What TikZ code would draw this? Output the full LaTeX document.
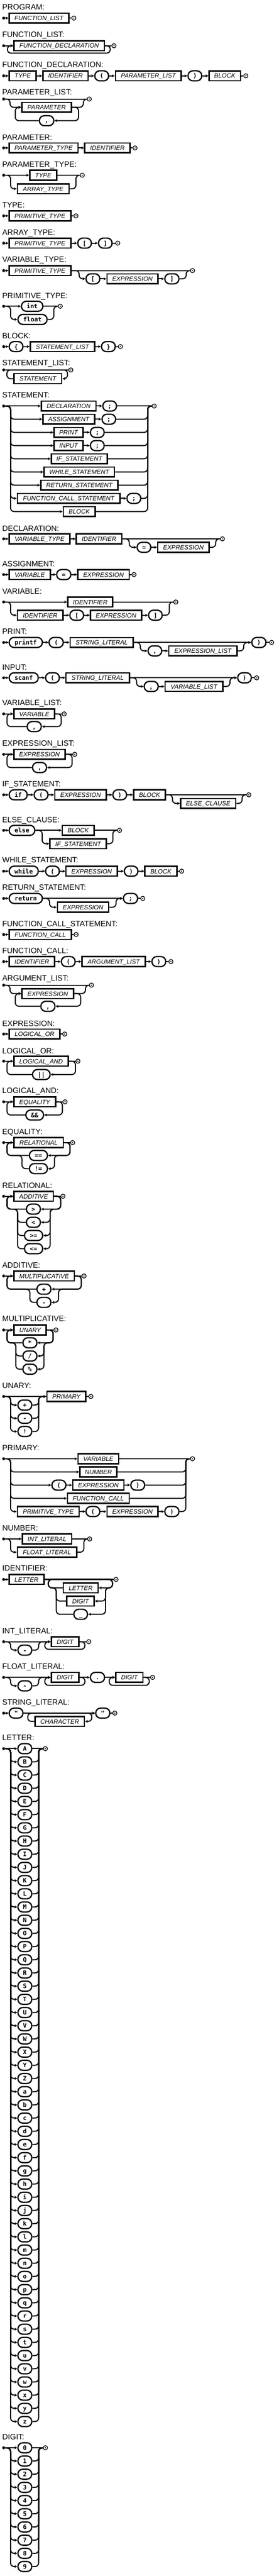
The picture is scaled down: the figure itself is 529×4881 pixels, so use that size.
\documentclass[tikz,border=0pt]{standalone}
\usepackage{fontspec}
\setmainfont{Liberation Sans}
\setmonofont{DejaVu Sans Mono}
\usetikzlibrary{arrows.meta}
\tikzset{
    rulename/.style={anchor=base west,inner sep=0pt,font=\fontsize{7.35}{8}\selectfont},
    ntbox/.style={draw,line width=1.35pt,minimum height=9.4pt,inner sep=0pt,text height=4.3pt,text depth=0pt,font=\fontsize{5.9}{6}\selectfont\itshape},
    tmbox/.style={draw,line width=1.2pt,rounded corners=4.6pt,minimum height=9.5pt,inner sep=0pt,text height=4.3pt,text depth=0pt,font=\fontsize{5.8}{6}\selectfont\ttfamily\bfseries},
    railstart/.style={circle,fill,inner sep=0pt,minimum size=2.8pt},
    railend/.style={circle,draw,line width=0.65pt,inner sep=0pt,minimum size=4pt,
        path picture={\fill (path picture bounding box.center) circle (0.6pt);}},
    wire/.style={line width=1pt},
    feed/.style={wire,-{Stealth[length=2.7pt,width=2.7pt]}},
    curvy/.style={rounded corners=3.4pt}
}
\newcommand\RuleName[3]{\node[rulename] (#1) at (4,#2) {#3};}
\newcommand\RailStart[3]{\node[railstart] (#1) at (#2,#3) {};}
\newcommand\RailEnd[3]{\node[railend] (#1) at (#2,#3) {};}
\newcommand\NonTerm[5]{\node[ntbox,minimum width={(#3-#2-1.6)*0.5pt}] (#1) at ({(#2+#3)/2},#4) {#5};}
\newcommand\Term[5]{\node[tmbox,minimum width={(#3-#2-1.5)*0.5pt}] (#1) at ({(#2+#3)/2},#4) {#5};}

\begin{document}
\begin{tikzpicture}[x=0.5pt,y=-0.5pt]
    \useasboundingbox (0,0) rectangle (529,4881);
    % PROGRAM
    \RuleName{progN}{19}{PROGRAM:}
    \RailStart{progS}{7}{34.3}
    \NonTerm{prog1}{16.7}{131}{34.3}{FUNCTION\_LIST}
    \RailEnd{progE}{140}{34.3}
    \draw[feed] (progS) -- (prog1);
    \draw[wire] (prog1) -- (progE);
    % FUNCTION_LIST
    \RuleName{flstN}{71}{FUNCTION\_LIST:}
    \RailStart{flstS}{7}{86.7}
    \NonTerm{flst1}{25.7}{198.7}{86.7}{FUNCTION\_DECLARATION}
    \RailEnd{flstE}{216}{86.7}
    \draw[feed] (flstS) -- (flst1);
    \draw[wire] (flst1) -- (flstE);
    \draw[feed,curvy] (flst1) -| (209,100.7) -| (14,86.7) -- (flst1);
    % FUNCTION_DECLARATION
    \RuleName{fdecN}{128}{FUNCTION\_DECLARATION:}
    \RailStart{fdecS}{7}{143.7}
    \NonTerm{fdec1}{16.7}{69.3}{143.7}{TYPE}
    \NonTerm{fdec2}{80.7}{167.7}{143.7}{IDENTIFIER}
    \Term{fdec3}{179}{206.7}{143.7}{(}
    \NonTerm{fdec4}{218.3}{344.3}{143.7}{PARAMETER\_LIST}
    \Term{fdec5}{355.7}{383.3}{143.7}{)}
    \NonTerm{fdec6}{395.7}{456.7}{143.7}{BLOCK}
    \RailEnd{fdecE}{466}{143.7}
    \foreach \a/\b in {S/1,1/2,2/3,3/4,4/5,5/6} \draw[feed] (fdec\a) -- (fdec\b);
    \draw[wire] (fdec6) -- (fdecE);
    % PARAMETER_LIST
    \RuleName{plstN}{180}{PARAMETER\_LIST:}
    \RailStart{plstS}{7}{187.7}
    \NonTerm{plst1}{41}{136}{203.3}{PARAMETER}
    \Term{plst2}{74}{102.7}{228.7}{,}
    \RailEnd{plstE}{169.3}{187.7}
    \draw[wire] (plstS) -- (plstE);
    \draw[feed,curvy] (plstS) -| (19,203.3) -- (plst1);
    \draw[feed,curvy] (plst1) -| (149,228.7) -- (plst2);
    \draw[feed,curvy] (plst2) -| (29,203.3) -- (plst1);
    \draw[wire,curvy] (plst1) -| (158,187.7) -- (plstE);
    % PARAMETER
    \RuleName{parN}{265}{PARAMETER:}
    \RailStart{parS}{7}{280.3}
    \NonTerm{par1}{16.7}{148.7}{280.3}{PARAMETER\_TYPE}
    \NonTerm{par2}{160}{247.3}{280.3}{IDENTIFIER}
    \RailEnd{parE}{256}{280.3}
    \foreach \a/\b in {S/1,1/2} \draw[feed] (par\a) -- (par\b);
    \draw[wire] (par2) -- (parE);
    % PARAMETER_TYPE
    \RuleName{ptypN}{316.7}{PARAMETER\_TYPE:}
    \RailStart{ptypS}{7}{332}
    \NonTerm{ptyp1}{55.7}{108.3}{332}{TYPE}
    \NonTerm{ptyp2}{32.3}{131.7}{357.7}{ARRAY\_TYPE}
    \RailEnd{ptypE}{156}{332}
    \draw[feed] (ptypS) -- (ptyp1);
    \draw[feed,curvy] (ptypS) -| (20,357.7) -- (ptyp2);
    \draw[wire] (ptyp1) -- (ptypE);
    \draw[wire,curvy] (ptyp2) -| (144,332) -- (ptypE);
    % TYPE
    \RuleName{typN}{393}{TYPE:}
    \RailStart{typS}{7}{409}
    \NonTerm{typ1}{16.7}{135}{409}{PRIMITIVE\_TYPE}
    \RailEnd{typE}{144}{409}
    \draw[feed] (typS) -- (typ1);
    \draw[wire] (typ1) -- (typE);
    % ARRAY_TYPE
    \RuleName{atypN}{445}{ARRAY\_TYPE:}
    \RailStart{atypS}{7}{460.7}
    \NonTerm{atyp1}{16.7}{135}{460.7}{PRIMITIVE\_TYPE}
    \Term{atyp2}{146.7}{174}{460.7}{[}
    \Term{atyp3}{186}{213.3}{460.7}{]}
    \RailEnd{atypE}{223.3}{460.7}
    \foreach \a/\b in {S/1,1/2,2/3} \draw[feed] (atyp\a) -- (atyp\b);
    \draw[wire] (atyp3) -- (atypE);
    % VARIABLE_TYPE
    \RuleName{vtypN}{496.7}{VARIABLE\_TYPE:}
    \RailStart{vtypS}{7}{512.7}
    \NonTerm{vtyp1}{16.7}{135}{512.7}{PRIMITIVE\_TYPE}
    \Term{vtyp2}{162.3}{190}{528.3}{[}
    \NonTerm{vtyp3}{202.3}{300}{528.3}{EXPRESSION}
    \Term{vtyp4}{311.7}{340}{528.3}{]}
    \RailEnd{vtypE}{365}{512.7}
    \draw[feed] (vtypS) -- (vtyp1);
    \draw[wire] (vtyp1) -- (vtypE);
    \draw[feed,curvy] (vtyp1) -| (150,528.3) -- (vtyp2);
    \foreach \a/\b in {2/3,3/4} \draw[feed] (vtyp\a) -- (vtyp\b);
    \draw[wire,curvy] (vtyp4) -| (353,512.7) -- (vtypE);
    % PRIMITIVE_TYPE
    \RuleName{primN}{565}{PRIMITIVE\_TYPE:}
    \RailStart{primS}{7}{580.3}
    \Term{prim1}{40}{82}{580.3}{int}
    \Term{prim2}{33.3}{90}{605.3}{float}
    \RailEnd{primE}{114.3}{580.3}
    \draw[feed] (primS) -- (prim1);
    \draw[feed,curvy] (primS) -| (20,605.3) -- (prim2);
    \draw[wire] (prim1) -- (primE);
    \draw[wire,curvy] (prim2) -| (102,580.3) -- (primE);
    % BLOCK
    \RuleName{blkN}{641.7}{BLOCK:}
    \RailStart{blkS}{7}{656.7}
    \Term{blk1}{16.7}{44.3}{656.7}{\{}
    \NonTerm{blk2}{56.7}{180}{656.7}{STATEMENT\_LIST}
    \Term{blk3}{191.7}{219.3}{656.7}{\}}
    \RailEnd{blkE}{228.3}{656.7}
    \foreach \a/\b in {S/1,1/2,2/3} \draw[feed] (blk\a) -- (blk\b);
    \draw[wire] (blk3) -- (blkE);
    % STATEMENT_LIST
    \RuleName{slstN}{692.7}{STATEMENT\_LIST:}
    \RailStart{slstS}{7}{701}
    \NonTerm{slst1}{25.7}{117.7}{717.5}{STATEMENT}
    \RailEnd{slstE}{134.3}{701}
    \draw[wire] (slstS) -- (slstE);
    \draw[feed,curvy] (slstS) -| (128,717.5) -- (slst1);
    \draw[wire,curvy] (slst1) -| (13,701) -- (slstE);
    % STATEMENT
    \RuleName{stmN}{753.3}{STATEMENT:}
    \RailStart{stmS}{7}{769.3}
    \NonTerm{stm1}{77.7}{182.7}{769.3}{DECLARATION}
    \Term{stmq1}{194.3}{221.7}{769.3}{;}
    \NonTerm{stm2}{80.7}{180}{794.3}{ASSIGNMENT}
    \Term{stmq2}{192.7}{220}{794.3}{;}
    \NonTerm{stm3}{101.7}{158.3}{819.3}{PRINT}
    \Term{stmq3}{170.7}{198.3}{819.3}{;}
    \NonTerm{stm4}{101.7}{158.3}{844.3}{INPUT}
    \Term{stmq4}{170.7}{198.3}{844.3}{;}
    \NonTerm{stm5}{96.7}{204}{869.3}{IF\_STATEMENT}
    \NonTerm{stm6}{82.7}{217.7}{894.3}{WHILE\_STATEMENT}
    \NonTerm{stm7}{76.7}{224}{919.3}{RETURN\_STATEMENT}
    \NonTerm{stm8}{32.3}{228.3}{944.3}{FUNCTION\_CALL\_STATEMENT}
    \Term{stmq8}{240}{267.7}{944.3}{;}
    \NonTerm{stm9}{119.3}{181}{969.3}{BLOCK}
    \RailEnd{stmE}{292.3}{769.3}
    \draw[feed] (stmS) -- (stm1);
    \foreach \row in {2,...,9} \draw[feed,curvy] (stmS) -| (20,{769.3+25*(\row-1)}) -- (stm\row);
    \foreach \row in {1,2,3,4,8} \draw[feed] (stm\row) -- (stmq\row);
    \draw[wire] (stmq1) -- (stmE);
    \foreach \n in {stmq2,stmq3,stmq4,stm5,stm6,stm7,stmq8,stm9} \draw[wire,curvy] (\n) -| (280,769.3) -- (stmE);
    % DECLARATION
    \RuleName{dclN}{1006}{DECLARATION:}
    \RailStart{dclS}{7}{1021}
    \NonTerm{dcl1}{16.7}{133.3}{1021}{VARIABLE\_TYPE}
    \NonTerm{dcl2}{144}{231.7}{1021}{IDENTIFIER}
    \Term{dcl3}{259.3}{286.7}{1037}{=}
    \NonTerm{dcl4}{298.3}{397.3}{1037}{EXPRESSION}
    \RailEnd{dclE}{421.7}{1021}
    \foreach \a/\b in {S/1,1/2,3/4} \draw[feed] (dcl\a) -- (dcl\b);
    \draw[wire] (dcl2) -- (dclE);
    \draw[feed,curvy] (dcl2) -| (245,1037) -- (dcl3);
    \draw[wire,curvy] (dcl4) -| (409,1021) -- (dclE);
    % ASSIGNMENT
    \RuleName{asgN}{1073.3}{ASSIGNMENT:}
    \RailStart{asgS}{7}{1088.7}
    \NonTerm{asg1}{16.7}{96}{1088.7}{VARIABLE}
    \Term{asg2}{106.7}{135}{1088.7}{=}
    \NonTerm{asg3}{146.7}{245.7}{1088.7}{EXPRESSION}
    \RailEnd{asgE}{254}{1088.7}
    \foreach \a/\b in {S/1,1/2,2/3} \draw[feed] (asg\a) -- (asg\b);
    \draw[wire] (asg3) -- (asgE);
    % VARIABLE
    \RuleName{varN}{1125}{VARIABLE:}
    \RailStart{varS}{7}{1140.7}
    \NonTerm{var1}{127.7}{214.3}{1140.7}{IDENTIFIER}
    \NonTerm{var2}{32.3}{120}{1165.7}{IDENTIFIER}
    \Term{var3}{131.7}{159.3}{1165.7}{[}
    \NonTerm{var4}{170.7}{269.3}{1165.7}{EXPRESSION}
    \Term{var5}{281}{308.3}{1165.7}{]}
    \RailEnd{varE}{333.3}{1140.7}
    \draw[feed] (varS) -- (var1);
    \draw[feed,curvy] (varS) -| (20,1165.7) -- (var2);
    \foreach \a/\b in {2/3,3/4,4/5} \draw[feed] (var\a) -- (var\b);
    \draw[wire] (var1) -- (varE);
    \draw[wire,curvy] (var5) -| (321,1140.7) -- (varE);
    % PRINT
    \RuleName{prtN}{1201.7}{PRINT:}
    \RailStart{prtS}{7}{1217.3}
    \Term{prt1}{16.7}{81}{1217.3}{printf}
    \Term{prt2}{92.3}{120.7}{1217.3}{(}
    \NonTerm{prt3}{132.3}{253.3}{1217.3}{STRING\_LITERAL}
    \Term{prt4}{280}{307.3}{1233.3}{,}
    \NonTerm{prt5}{319.3}{450}{1233.3}{EXPRESSION\_LIST}
    \Term{prt6}{476.7}{505}{1217.3}{)}
    \RailEnd{prtE}{515}{1217.3}
    \foreach \a/\b in {S/1,1/2,2/3,3/6,4/5} \draw[feed] (prt\a) -- (prt\b);
    \draw[feed,curvy] (prt3) -| (266,1233.3) -- (prt4);
    \draw[feed,curvy] (prt5) -| (462,1217.3) -- (prt6);
    \draw[wire] (prt6) -- (prtE);
    % INPUT
    \RuleName{inpN}{1269.3}{INPUT:}
    \RailStart{inpS}{7}{1284.3}
    \Term{inp1}{16.7}{73.3}{1284.3}{scanf}
    \Term{inp2}{85.7}{113.3}{1284.3}{(}
    \NonTerm{inp3}{124.3}{246}{1284.3}{STRING\_LITERAL}
    \Term{inp4}{272.7}{300.7}{1300.7}{,}
    \NonTerm{inp5}{312.3}{423.3}{1300.7}{VARIABLE\_LIST}
    \Term{inp6}{450}{477.3}{1284.3}{)}
    \RailEnd{inpE}{486.7}{1284.3}
    \foreach \a/\b in {S/1,1/2,2/3,3/6,4/5} \draw[feed] (inp\a) -- (inp\b);
    \draw[feed,curvy] (inp3) -| (259,1300.7) -- (inp4);
    \draw[feed,curvy] (inp5) -| (436,1284.3) -- (inp6);
    \draw[wire] (inp6) -- (inpE);
    % VARIABLE_LIST
    \RuleName{vlstN}{1336.7}{VARIABLE\_LIST:}
    \RailStart{vlstS}{7}{1352.7}
    \NonTerm{vlst1}{25.7}{104.3}{1352.7}{VARIABLE}
    \Term{vlst2}{50.7}{79}{1376.7}{,}
    \RailEnd{vlstE}{121.7}{1352.7}
    \draw[feed] (vlstS) -- (vlst1);
    \draw[wire] (vlst1) -- (vlstE);
    \draw[feed,curvy] (vlst1) -| (116,1376.7) -- (vlst2);
    \draw[feed,curvy] (vlst2) -| (13.3,1352.7) -- (vlst1);
    % EXPRESSION_LIST
    \RuleName{exlN}{1413.3}{EXPRESSION\_LIST:}
    \RailStart{exlS}{7}{1429.3}
    \NonTerm{exl1}{25.7}{124}{1429.3}{EXPRESSION}
    \Term{exl2}{61}{89}{1454.3}{,}
    \RailEnd{exlE}{141.7}{1429.3}
    \draw[feed] (exlS) -- (exl1);
    \draw[wire] (exl1) -- (exlE);
    \draw[feed,curvy] (exl1) -| (136.7,1454.3) -- (exl2);
    \draw[feed,curvy] (exl2) -| (13.3,1429.3) -- (exl1);
    % IF_STATEMENT
    \RuleName{ifsN}{1490.7}{IF\_STATEMENT:}
    \RailStart{ifsS}{7}{1506}
    \Term{ifs1}{16.7}{52.3}{1506}{if}
    \Term{ifs2}{64}{91.7}{1506}{(}
    \NonTerm{ifs3}{103.3}{202.3}{1506}{EXPRESSION}
    \Term{ifs4}{213.3}{240.7}{1506}{)}
    \NonTerm{ifs5}{252.7}{314.3}{1506}{BLOCK}
    \NonTerm{ifs6}{341.7}{447.7}{1522.3}{ELSE\_CLAUSE}
    \RailEnd{ifsE}{471.7}{1506}
    \foreach \a/\b in {S/1,1/2,2/3,3/4,4/5} \draw[feed] (ifs\a) -- (ifs\b);
    \draw[wire] (ifs5) -- (ifsE);
    \draw[feed,curvy] (ifs5) -| (327,1522.3) -- (ifs6);
    \draw[wire,curvy] (ifs6) -| (459,1506) -- (ifsE);
    % ELSE_CLAUSE
    \RuleName{elcN}{1558.3}{ELSE\_CLAUSE:}
    \RailStart{elcS}{7}{1573.3}
    \Term{elc1}{16.7}{66.7}{1573.3}{else}
    \NonTerm{elc2}{117.3}{179}{1573.3}{BLOCK}
    \NonTerm{elc3}{94}{202.3}{1598.7}{IF\_STATEMENT}
    \RailEnd{elcE}{226.7}{1573.3}
    \foreach \a/\b in {S/1,1/2} \draw[feed] (elc\a) -- (elc\b);
    \draw[feed,curvy] (elc1) -| (80,1598.7) -- (elc3);
    \draw[wire] (elc2) -- (elcE);
    \draw[wire,curvy] (elc3) -| (214,1573.3) -- (elcE);
    % WHILE_STATEMENT
    \RuleName{whlN}{1634}{WHILE\_STATEMENT:}
    \RailStart{whlS}{7}{1650.7}
    \Term{whl1}{16.7}{73.3}{1650.7}{while}
    \Term{whl2}{85.7}{113.3}{1650.7}{(}
    \NonTerm{whl3}{124.3}{223.3}{1650.7}{EXPRESSION}
    \Term{whl4}{235}{262.3}{1650.7}{)}
    \NonTerm{whl5}{274}{336}{1650.7}{BLOCK}
    \RailEnd{whlE}{344.3}{1650.7}
    \foreach \a/\b in {S/1,1/2,2/3,3/4,4/5} \draw[feed] (whl\a) -- (whl\b);
    \draw[wire] (whl5) -- (whlE);
    % RETURN_STATEMENT
    \RuleName{retN}{1686.7}{RETURN\_STATEMENT:}
    \RailStart{retS}{7}{1702.3}
    \Term{ret1}{16.7}{81}{1702.3}{return}
    \NonTerm{ret2}{108.3}{206.7}{1719}{EXPRESSION}
    \Term{ret3}{233.3}{261.7}{1702.3}{;}
    \RailEnd{retE}{270.7}{1702.3}
    \foreach \a/\b in {S/1,1/3} \draw[feed] (ret\a) -- (ret\b);
    \draw[feed,curvy] (ret1) -| (94,1719) -- (ret2);
    \draw[feed,curvy] (ret2) -| (220,1702.3) -- (ret3);
    \draw[wire] (ret3) -- (retE);
    % FUNCTION_CALL_STATEMENT
    \RuleName{fcsN}{1755}{FUNCTION\_CALL\_STATEMENT:}
    \RailStart{fcsS}{7}{1770.7}
    \NonTerm{fcs1}{16.7}{136}{1770.7}{FUNCTION\_CALL}
    \RailEnd{fcsE}{144.3}{1770.7}
    \draw[feed] (fcsS) -- (fcs1);
    \draw[wire] (fcs1) -- (fcsE);
    % FUNCTION_CALL
    \RuleName{fclN}{1806.7}{FUNCTION\_CALL:}
    \RailStart{fclS}{7}{1822}
    \NonTerm{fcl1}{16.7}{104.3}{1822}{IDENTIFIER}
    \Term{fcl2}{115.7}{143.3}{1822}{(}
    \NonTerm{fcl3}{155}{276}{1822}{ARGUMENT\_LIST}
    \Term{fcl4}{287.3}{315}{1822}{)}
    \RailEnd{fclE}{324}{1822}
    \foreach \a/\b in {S/1,1/2,2/3,3/4} \draw[feed] (fcl\a) -- (fcl\b);
    \draw[wire] (fcl4) -- (fclE);
    % ARGUMENT_LIST
    \RuleName{argN}{1858.3}{ARGUMENT\_LIST:}
    \RailStart{argS}{7}{1866.7}
    \NonTerm{arg1}{41}{140}{1882.7}{EXPRESSION}
    \Term{arg2}{76.7}{105}{1906.7}{,}
    \RailEnd{argE}{173.3}{1866.7}
    \draw[wire] (argS) -- (argE);
    \draw[feed,curvy] (argS) -| (19,1882.7) -- (arg1);
    \draw[feed,curvy] (arg1) -| (153,1906.7) -- (arg2);
    \draw[feed,curvy] (arg2) -| (29,1882.7) -- (arg1);
    \draw[wire,curvy] (arg1) -| (162,1866.7) -- (argE);
    % EXPRESSION
    \RuleName{expN}{1944}{EXPRESSION:}
    \RailStart{expS}{7}{1959.3}
    \NonTerm{exp1}{16.7}{114.3}{1959.3}{LOGICAL\_OR}
    \RailEnd{expE}{122.7}{1959.3}
    \draw[feed] (expS) -- (exp1);
    \draw[wire] (exp1) -- (expE);
    % LOGICAL_OR
    \RuleName{lorN}{1996}{LOGICAL\_OR:}
    \RailStart{lorS}{7}{2010.7}
    \NonTerm{lor1}{25.7}{130}{2010.7}{LOGICAL\_AND}
    \Term{lor2}{61}{95.7}{2036}{||}
    \RailEnd{lorE}{147.7}{2010.7}
    \draw[feed] (lorS) -- (lor1);
    \draw[wire] (lor1) -- (lorE);
    \draw[feed,curvy] (lor1) -| (143,2036) -- (lor2);
    \draw[feed,curvy] (lor2) -| (13.3,2010.7) -- (lor1);
    % LOGICAL_AND
    \RuleName{lanN}{2071.7}{LOGICAL\_AND:}
    \RailStart{lanS}{7}{2087.7}
    \NonTerm{lan1}{25.7}{106}{2087.7}{EQUALITY}
    \Term{lan2}{48.3}{83.3}{2112.7}{\&\&}
    \RailEnd{lanE}{123.3}{2087.7}
    \draw[feed] (lanS) -- (lan1);
    \draw[wire] (lan1) -- (lanE);
    \draw[feed,curvy] (lan1) -| (118.3,2112.7) -- (lan2);
    \draw[feed,curvy] (lan2) -| (13.3,2087.7) -- (lan1);
    % EQUALITY
    \RuleName{equN}{2149}{EQUALITY:}
    \RailStart{equS}{7}{2165}
    \NonTerm{equ1}{25.7}{120.7}{2165}{RELATIONAL}
    \Term{equ2}{55}{90.7}{2189.3}{==}
    \Term{equ3}{55}{90.7}{2214.3}{!=}
    \RailEnd{equE}{137.7}{2165}
    \draw[feed] (equS) -- (equ1);
    \draw[wire] (equ1) -- (equE);
    \draw[feed,curvy] (equ1) -| (132.7,2189.3) -- (equ2);
    \draw[feed,curvy] (equ2) -| (13.3,2165) -- (equ1);
    \draw[feed,curvy] (equ1) -| (132.7,2189.3) -| (103.3,2214.3) -- (equ3);
    \draw[feed,curvy] (equ3) -| (41.7,2189.3) -| (13.3,2165) -- (equ1);
    % RELATIONAL
    \RuleName{relN}{2251}{RELATIONAL:}
    \RailStart{relS}{7}{2266.7}
    \NonTerm{rel1}{25.7}{101.7}{2266.7}{ADDITIVE}
    \Term{rel2}{49.3}{77.3}{2291}{>}
    \Term{rel3}{49.3}{77.3}{2316}{<}
    \Term{rel4}{45.7}{81.7}{2341}{>=}
    \Term{rel5}{45.7}{81.7}{2366}{<=}
    \RailEnd{relE}{119.3}{2266.7}
    \draw[feed] (relS) -- (rel1);
    \draw[wire] (rel1) -- (relE);
    \draw[feed,curvy] (rel1) -| (115,2291) -- (rel2);
    \draw[feed,curvy] (rel2) -| (13.3,2266.7) -- (rel1);
    \foreach \row in {3,4,5} {
        \draw[feed,curvy] (rel1) -| (115,2291) -| (95,{2291+25*(\row-2)}) -- (rel\row);
        \draw[feed,curvy] (rel\row) -| (33.3,2291) -| (13.3,2266.7) -- (rel1);
    }
    % ADDITIVE
    \RuleName{addN}{2402.7}{ADDITIVE:}
    \RailStart{addS}{7}{2417.7}
    \NonTerm{add1}{25.7}{141.7}{2417.7}{MULTIPLICATIVE}
    \Term{add2}{69.3}{97.3}{2442.7}{+}
    \Term{add3}{69.3}{97.3}{2467.7}{-}
    \RailEnd{addE}{159.3}{2417.7}
    \draw[feed] (addS) -- (add1);
    \draw[wire] (add1) -- (addE);
    \draw[feed,curvy] (add1) -| (154,2442.7) -- (add2);
    \draw[feed,curvy] (add2) -| (13.3,2417.7) -- (add1);
    \draw[feed,curvy] (add1) -| (154,2442.7) -| (111,2467.7) -- (add3);
    \draw[feed,curvy] (add3) -| (56.7,2442.7) -| (13.3,2417.7) -- (add1);
    % MULTIPLICATIVE
    \RuleName{mulN}{2503.3}{MULTIPLICATIVE:}
    \RailStart{mulS}{7}{2520}
    \NonTerm{mul1}{25.7}{88.3}{2520}{UNARY}
    \Term{mul2}{42.7}{70.7}{2544.3}{*}
    \Term{mul3}{42.7}{70.7}{2569.3}{/}
    \Term{mul4}{42.7}{70.7}{2594.3}{\%}
    \RailEnd{mulE}{106}{2520}
    \draw[feed] (mulS) -- (mul1);
    \draw[wire] (mul1) -- (mulE);
    \draw[feed,curvy] (mul1) -| (100.7,2544.3) -- (mul2);
    \draw[feed,curvy] (mul2) -| (13.3,2520) -- (mul1);
    \foreach \row in {3,4} {
        \draw[feed,curvy] (mul1) -| (100.7,2544.3) -| (83.3,{2544.3+25*(\row-2)}) -- (mul\row);
        \draw[feed,curvy] (mul\row) -| (30,2544.3) -| (13.3,2520) -- (mul1);
    }
    % UNARY
    \RuleName{unaN}{2630}{UNARY:}
    \RailStart{unaS}{7}{2646}
    \Term{una1}{33.3}{61}{2662.3}{+}
    \Term{una2}{33.3}{61}{2687.3}{-}
    \Term{una3}{33.3}{61}{2712.3}{!}
    \NonTerm{una4}{88.3}{163.3}{2646}{PRIMARY}
    \RailEnd{unaE}{172.3}{2646}
    \draw[feed] (unaS) -- (una4);
    \foreach \row in {1,2,3} {
        \draw[feed,curvy] (unaS) -| (20,{2662.3+25*(\row-1)}) -- (una\row);
        \draw[feed,curvy] (una\row) -| (73.3,2646) -- (una4);
    }
    \draw[wire] (una4) -- (unaE);
    % PRIMARY
    \RuleName{priN}{2748.3}{PRIMARY:}
    \RailStart{priS}{7}{2764}
    \NonTerm{pri1}{147.3}{225.7}{2764}{VARIABLE}
    \NonTerm{pri2}{150.7}{222.3}{2789}{NUMBER}
    \Term{pri3}{97.7}{125.7}{2814}{(}
    \NonTerm{pri3b}{137.3}{235.7}{2814}{EXPRESSION}
    \Term{pri3c}{247.3}{275}{2814}{)}
    \NonTerm{pri4}{127.3}{245.7}{2839}{FUNCTION\_CALL}
    \NonTerm{pri5}{32.3}{150.7}{2864}{PRIMITIVE\_TYPE}
    \Term{pri5b}{162.3}{190}{2864}{(}
    \NonTerm{pri5c}{202.3}{300}{2864}{EXPRESSION}
    \Term{pri5d}{311.7}{340}{2864}{)}
    \RailEnd{priE}{365}{2764}
    \draw[feed] (priS) -- (pri1);
    \foreach \row in {2,...,5} \draw[feed,curvy] (priS) -| (20,{2764+25*(\row-1)}) -- (pri\row);
    \foreach \a/\b in {3/3b,3b/3c,5/5b,5b/5c,5c/5d} \draw[feed] (pri\a) -- (pri\b);
    \draw[wire] (pri1) -- (priE);
    \foreach \n in {pri2,pri3c,pri4,pri5d} \draw[wire,curvy] (\n) -| (352.3,2764) -- (priE);
    % NUMBER
    \RuleName{numN}{2900.7}{NUMBER:}
    \RailStart{numS}{7}{2916}
    \NonTerm{num1}{41.7}{136.7}{2916}{INT\_LITERAL}
    \NonTerm{num2}{32.3}{146}{2941}{FLOAT\_LITERAL}
    \RailEnd{numE}{170}{2916}
    \draw[feed] (numS) -- (num1);
    \draw[feed,curvy] (numS) -| (20,2941) -- (num2);
    \draw[wire] (num1) -- (numE);
    \draw[wire,curvy] (num2) -| (159,2916) -- (numE);
    % IDENTIFIER
    \RuleName{idfN}{2976.7}{IDENTIFIER:}
    \RailStart{idfS}{7}{2992.7}
    \NonTerm{idf1}{16.7}{84}{2992.7}{LETTER}
    \NonTerm{idf2}{119.3}{186.7}{3008.7}{LETTER}
    \NonTerm{idf3}{126}{179.3}{3033.7}{DIGIT}
    \Term{idf4}{139.3}{166.7}{3058.7}{\_}
    \RailEnd{idfE}{220}{2992.7}
    \draw[feed] (idfS) -- (idf1);
    \draw[wire] (idf1) -- (idfE);
    \draw[feed,curvy] (idf1) -| (213.3,3008.7) -- (idf2);
    \draw[wire,curvy] (idf2) -| (91.7,2992.7) -- (idfE);
    \foreach \row in {3,4} {
        \draw[feed,curvy] (idf1) -| (213.3,3008.7) -| (200,{3033.7+25*(\row-3)}) -- (idf\row);
        \draw[wire,curvy] (idf\row) -| (106.7,3008.7) -| (91.7,2992.7) -- (idfE);
    }
    % INT_LITERAL
    \RuleName{intN}{3095}{INT\_LITERAL:}
    \RailStart{intS}{7}{3110.7}
    \Term{int1}{33.3}{61}{3126.7}{-}
    \NonTerm{int2}{96.7}{150}{3110.7}{DIGIT}
    \RailEnd{intE}{168.3}{3110.7}
    \draw[feed] (intS) -- (int2);
    \draw[feed,curvy] (intS) -| (20,3126.7) -- (int1);
    \draw[feed,curvy] (int1) -| (73.3,3110.7) -- (int2);
    \draw[feed,curvy] (int2) -| (161,3125) -| (85,3110.7) -- (int2);
    \draw[wire] (int2) -- (intE);
    % FLOAT_LITERAL
    \RuleName{fltN}{3162.7}{FLOAT\_LITERAL:}
    \RailStart{fltS}{7}{3178.3}
    \Term{flt1}{33.3}{61}{3194.3}{-}
    \NonTerm{flt2}{96.7}{150}{3178.3}{DIGIT}
    \Term{flt3}{170.7}{199}{3178.3}{.}
    \NonTerm{flt4}{219}{271.7}{3178.3}{DIGIT}
    \RailEnd{fltE}{289.3}{3178.3}
    \draw[feed] (fltS) -- (flt2);
    \draw[feed,curvy] (fltS) -| (20,3194.3) -- (flt1);
    \draw[feed,curvy] (flt1) -| (73.3,3178.3) -- (flt2);
    \draw[feed,curvy] (flt2) -| (161,3193.3) -| (85,3178.3) -- (flt2);
    \foreach \a/\b in {2/3,3/4} \draw[feed] (flt\a) -- (flt\b);
    \draw[feed,curvy] (flt4) -| (283,3193.3) -| (207,3178.3) -- (flt4);
    \draw[wire] (flt4) -- (fltE);
    % STRING_LITERAL
    \RuleName{strN}{3230.7}{STRING\_LITERAL:}
    \RailStart{strS}{7}{3246}
    \Term{str1}{16.7}{44.3}{3246}{"}
    \NonTerm{str2}{66}{160.7}{3261.7}{CHARACTER}
    \Term{str3}{180.7}{209}{3246}{"}
    \RailEnd{strE}{217.7}{3246}
    \foreach \a/\b in {S/1,1/3} \draw[feed] (str\a) -- (str\b);
    \draw[feed,curvy] (str1) -| (174,3261.7) -- (str2);
    \draw[feed,curvy] (str2) -| (52.7,3246) -- (str3);
    \draw[wire] (str3) -- (strE);
    % LETTER
    \RuleName{letN}{3297.3}{LETTER:}
    \RailStart{letS}{7}{3313.3}
    \RailEnd{letE}{86}{3313.3}
    \foreach \glyph [count=\idx] in {A,B,C,D,E,F,G,H,I,J,K,L,M,N,O,P,Q,R,S,T,U,V,W,X,Y,Z,a,b,c,d,e,f,g,h,i,j,k,l,m,n,o,p,q,r,s,t,u,v,w,x,y,z} {
        \pgfmathsetmacro\yy{3313.3+25*(\idx-1)}
        \Term{let\idx}{33.3}{61}{\yy}{\glyph}
        \ifnum\idx=1
            \draw[feed] (letS) -- (let1);
            \draw[wire] (let1) -- (letE);
        \else
            \draw[feed,curvy] (letS) -| (20,\yy) -- (let\idx);
            \draw[wire,curvy] (let\idx) -| (73.3,3313.3) -- (letE);
        \fi
    }
    % DIGIT
    \RuleName{digN}{4622}{DIGIT:}
    \RailStart{digS}{7}{4638}
    \RailEnd{digE}{86}{4638}
    \foreach \glyph [count=\idx] in {0,1,2,3,4,5,6,7,8,9} {
        \pgfmathsetmacro\yy{4638+25*(\idx-1)}
        \Term{dig\idx}{33.3}{61}{\yy}{\glyph}
        \ifnum\idx=1
            \draw[feed] (digS) -- (dig1);
            \draw[wire] (dig1) -- (digE);
        \else
            \draw[feed,curvy] (digS) -| (20,\yy) -- (dig\idx);
            \draw[wire,curvy] (dig\idx) -| (73.3,4638) -- (digE);
        \fi
    }
\end{tikzpicture}
\end{document}
